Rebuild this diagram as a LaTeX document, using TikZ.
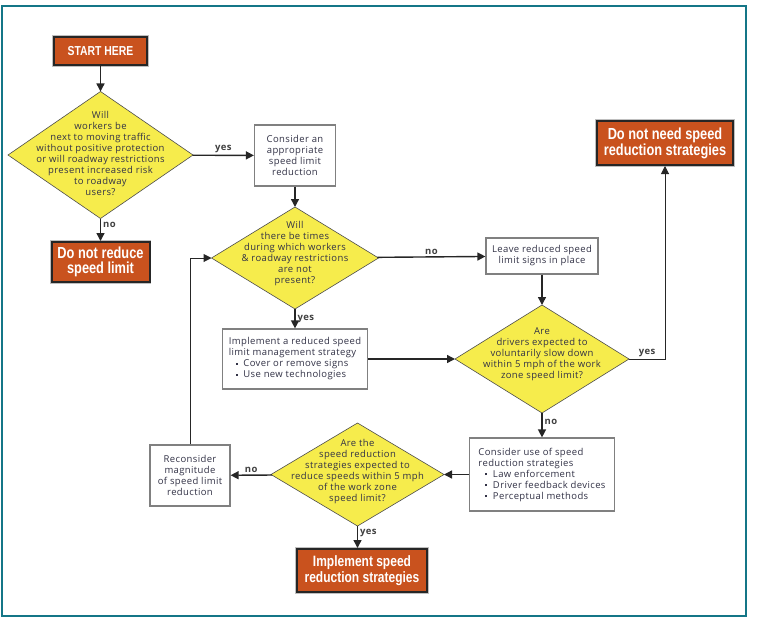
\documentclass[tikz,border=0pt]{standalone}
\usepackage{fontspec}
\setmainfont{Open Sans}[LetterSpace=4]
\newfontfamily\condbf[FakeStretch=0.8]{Liberation Sans}
\usepackage{tikz}
\usetikzlibrary{shapes,arrows,arrows.meta}

\definecolor{frameteal}{RGB}{20,118,135}
\definecolor{boxorange}{RGB}{201,82,30}
\definecolor{qyellow}{RGB}{246,236,76}
\definecolor{txtgray}{RGB}{50,50,70}

\newcommand{\bulletsq}{\raisebox{2pt}{\rule{1.8pt}{1.8pt}}}

\begin{document}
\begin{tikzpicture}[x=1pt,y=-1pt,
  every node/.style={font=\fontsize{9.5}{11}\selectfont,text=txtgray},
  endbox/.style={rectangle,draw=black!85,line width=2pt,fill=boxorange,text=white,
    preaction={draw=black!25,line width=3.6pt},
    font=\condbf\bfseries\fontsize{16}{14.5}\selectfont,align=center,inner sep=0pt},
  stepbox/.style={rectangle,draw=black!50,line width=1.2pt,fill=white,align=center,inner sep=3pt},
  question/.style={diamond,draw=black!70,line width=0.6pt,fill=qyellow,inner sep=0pt,outer sep=0pt},
  qtext/.style={align=center,font=\fontsize{9.5}{11}\selectfont,text=txtgray},
  flow/.style={-{Triangle[length=8pt,width=8pt]},line width=1.4pt,draw=black!85},
  answer/.style={font=\bfseries\fontsize{9.5}{11}\selectfont,text=black!75,inner sep=2pt}]

\useasboundingbox (0,0) rectangle (763,622);
\draw[frameteal,line width=2.5pt] (2,6) rectangle (746,616);

%left column
\node[endbox,minimum width=93pt,minimum height=28pt,font=\condbf\bfseries\fontsize{13}{14}\selectfont] (start) at (100.5,51) {START HERE};
\node[question,minimum width=185pt,minimum height=127pt,
  label={[qtext,yshift=2pt]center:{Will\\workers be\\next to moving traffic\\without positive protection\\or will roadway restrictions\\present increased risk\\to roadway\\users?}}] (risk) at (100.5,155) {};
\node[endbox,minimum width=98pt,minimum height=40pt] (noreduce) at (100.5,262) {Do not reduce\\speed limit};

%middle column
\node[stepbox,minimum width=81pt,minimum height=61pt] (consider) at (295,155.5) {Consider an\\appropriate\\speed limit\\reduction};
\node[question,minimum width=167pt,minimum height=102pt,
  label={[qtext,yshift=4pt]center:{Will\\there be times\\during which workers\\\& roadway restrictions\\are not\\present?}}] (times) at (295,258) {};
\node[stepbox,minimum width=145pt,minimum height=60pt,align=left] (manage) at (295,359)
  {Implement a reduced speed\\limit management strategy\\\hspace*{7pt}\bulletsq\ \ Cover or remove signs\\\hspace*{7pt}\bulletsq\ \ Use new technologies};

%right column
\node[stepbox,minimum width=112pt,minimum height=36pt] (leave) at (542,256) {Leave reduced speed\\limit signs in place};
\node[question,minimum width=174pt,minimum height=108pt,
  label={[qtext,yshift=5pt]center:{Are\\drivers expected to\\voluntarily slow down\\within 5 mph of the work\\zone speed limit?}}] (slow) at (542,359) {};
\node[stepbox,minimum width=145pt,minimum height=73pt,align=left] (strategies) at (542,474.5)
  {Consider use of speed\\reduction strategies\\\hspace*{7pt}\bulletsq\ \ Law enforcement\\\hspace*{7pt}\bulletsq\ \ Driver feedback devices\\\hspace*{7pt}\bulletsq\ \ Perceptual methods};
\node[endbox,minimum width=136pt,minimum height=44pt] (noneed) at (665,143) {Do not need speed\\reduction strategies};

%bottom row
\node[question,minimum width=173pt,minimum height=103pt,
  label={[qtext,yshift=3pt]center:{Are the\\speed reduction\\strategies expected to\\reduce speeds within 5 mph\\of the work zone\\speed limit?}}] (expect) at (357.5,474.5) {};
\node[stepbox,minimum width=80pt,minimum height=61pt] (reconsider) at (190,475.5) {Reconsider\\magnitude\\of speed limit\\reduction};
\node[endbox,minimum width=130pt,minimum height=43pt,font=\condbf\bfseries\fontsize{15}{15.5}\selectfont] (implement) at (362,570.5) {Implement speed\\reduction strategies};

%connectors
\draw[flow] (start) -- (risk);
\draw[flow] (risk) -- (noreduce) node[answer,right,pos=0.3] {no};
\draw[flow] (risk) -- (consider) node[answer,above,midway] {yes};
\draw[flow] (consider) -- (times);
\draw[flow] (times) -- (leave) node[answer,above,midway] {no};
\draw[flow] (times) -- (manage) node[answer,right,midway] {yes};
\draw[flow] (leave) -- (slow);
\draw[flow] (manage) -- (slow);
\draw[flow,line width=1pt] (slow.east) -| (noneed.south) node[answer,above,pos=0.25] {yes};
\draw[flow] (slow) -- (strategies) node[answer,right,pos=0.35] {no};
\draw[flow] (strategies) -- (expect);
\draw[flow] (expect) -- (reconsider) node[answer,above,midway] {no};
\draw[flow] (expect.south) -- (expect.south |- implement.north) node[answer,right,pos=0.3] {yes};
\draw[flow,line width=1pt] (reconsider.north) |- (times.west);

\end{tikzpicture}
\end{document}
